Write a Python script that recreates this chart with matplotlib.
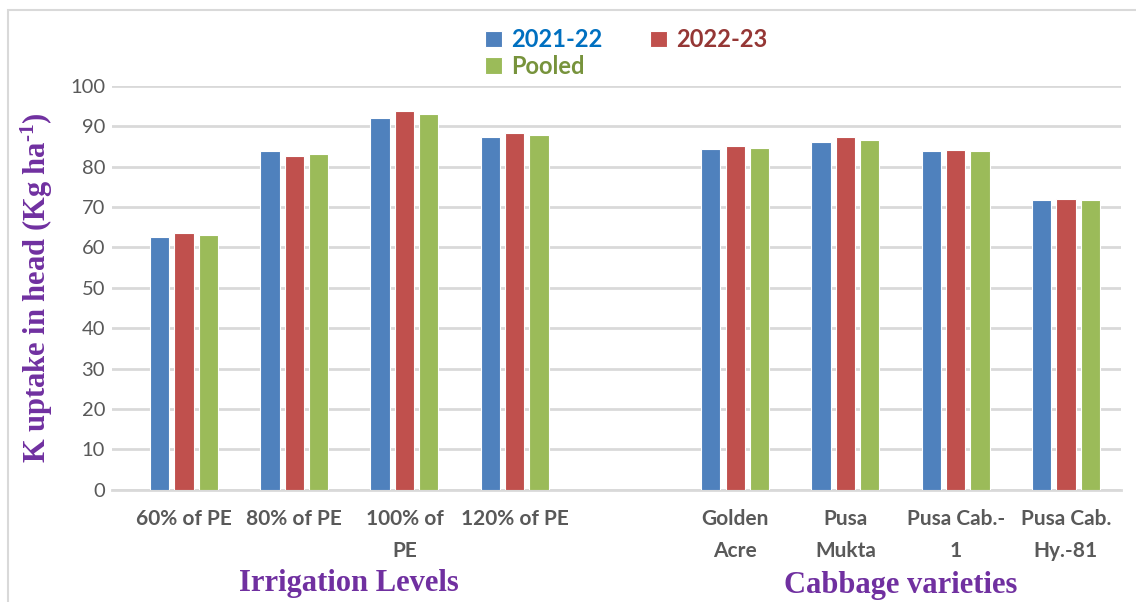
import matplotlib
matplotlib.use("Agg")
import matplotlib.pyplot as plt
import numpy as np
from matplotlib.patches import Rectangle

plt.rcParams["mathtext.fontset"] = "custom"
plt.rcParams["mathtext.rm"] = "Liberation Serif:bold"
plt.rcParams["mathtext.it"] = "Liberation Serif:bold"
plt.rcParams["mathtext.bf"] = "Liberation Serif:bold"
plt.rcParams["mathtext.default"] = "rm"

categories = ["60% of PE", "80% of PE", "100% of\nPE", "120% of PE", "",
              "Golden\nAcre", "Pusa\nMukta", "Pusa Cab.-\n1", "Pusa Cab.\nHy.-81"]
s2122 = [62.5, 83.8, 92.1, 87.2, np.nan, 84.3, 86.0, 83.8, 71.6]
s2223 = [63.5, 82.6, 93.7, 88.3, np.nan, 85.0, 87.4, 84.1, 71.9]
pooled = [63.0, 83.2, 92.9, 87.8, np.nan, 84.6, 86.6, 83.9, 71.7]
series_names = ["2021-22", "2022-23", "Pooled"]
group_labels = ["Irrigation Levels", "Cabbage varieties"]
yticks = [0, 10, 20, 30, 40, 50, 60, 70, 80, 90, 100]

W, H = 1136, 602
fig = plt.figure(figsize=(W / 100, H / 100), dpi=100)
ax = fig.add_axes([112 / W, 1 - 489.7 / H, (1121 - 112) / W, (489.7 - 85.7) / H])

x = np.arange(len(categories))
bw = 0.175
off = 0.221
cols = ["#4F81BD", "#C0504D", "#9BBB59"]
handles = []
for i, (vals, c, name) in enumerate(zip([s2122, s2223, pooled], cols, series_names)):
    b = ax.bar(x + (i - 1) * off, vals, width=bw, color=c, edgecolor="white",
               linewidth=0.8, label=name, zorder=3)
    handles.append(b)

ax.set_xlim(-0.653, 8.5)
ax.set_ylim(0, 100)
ax.set_yticks(yticks)
ax.yaxis.grid(True, color="#D9D9D9", linewidth=2)
ax.set_axisbelow(True)
for s in ["left", "right", "top"]:
    ax.spines[s].set_visible(False)
ax.spines["bottom"].set_color("#D9D9D9")
ax.spines["bottom"].set_linewidth(2)
ax.tick_params(axis="both", length=0)
ax.tick_params(axis="y", pad=5)
ax.tick_params(axis="x", pad=14)
ax.set_yticklabels([str(v) for v in yticks], fontfamily="Lato", fontsize=14.5, color="#595959")
ax.set_xticks(x)
ax.set_xticklabels(categories, fontfamily="Lato", fontweight="bold", fontsize=15,
                   color="#595959", linespacing=1.75)

ax.set_ylabel("K uptake in head (Kg ha$^{\\text{-1}}$)", fontfamily="Liberation Serif",
              fontweight="bold", fontsize=22, color="#7030A0")
ax.yaxis.set_label_coords(-0.056, 0.5)

tr = matplotlib.transforms.blended_transform_factory(ax.transData, fig.transFigure)
ax.text((x[0] + x[3]) / 2, 1 - 584 / H, group_labels[0], transform=tr, ha="center", va="center",
        fontfamily="Liberation Serif", fontweight="bold", fontsize=22, color="#7030A0")
ax.text((x[5] + x[8]) / 2, 1 - 586 / H, group_labels[1], transform=tr, ha="center", va="center",
        fontfamily="Liberation Serif", fontweight="bold", fontsize=22, color="#7030A0")

order = [0, 2, 1]
leg = ax.legend([handles[i] for i in order], [series_names[i] for i in order], ncol=2,
                loc="upper left", bbox_to_anchor=(476 / W, 1 - 19 / H), bbox_transform=fig.transFigure,
                frameon=False, prop={"family": "Lato", "weight": "bold", "size": 17},
                handlelength=0.7, handleheight=0.7, handletextpad=0.4, columnspacing=2.0,
                labelspacing=0.15, borderaxespad=0)
text_cols = ["#0070C0", "#77933C", "#953735"]
for t, c in zip(leg.get_texts(), text_cols):
    t.set_color(c)

fig.patches.append(Rectangle((8 / W, -0.01), 1.0, 1 - 10 / H + 0.01, transform=fig.transFigure,
                             fill=False, edgecolor="#D9D9D9", linewidth=1.5))

fig.savefig("out.png", dpi=100)
